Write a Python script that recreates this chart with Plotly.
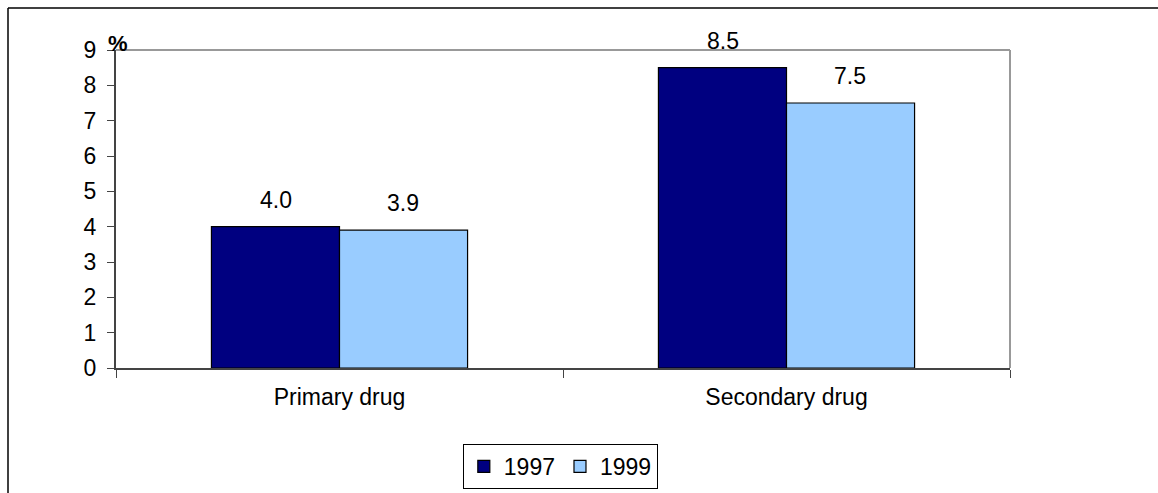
import plotly.graph_objects as go

categories = ["Primary drug", "Secondary drug"]
series_names = ["1997", "1999"]
values_1997 = [4.0, 8.5]
values_1999 = [3.9, 7.5]
colors = ["#000080", "#99CCFF"]
y_ticks = [0, 1, 2, 3, 4, 5, 6, 7, 8, 9]

FONT = "Liberation Sans, Arial, sans-serif"
FS = 23
W, H = 1158, 493
ML, MR, MT, MB = 116, 148, 50, 125

fig = go.Figure()
for name, vals, col in zip(series_names, [values_1997, values_1999], colors):
    fig.add_trace(go.Bar(
        x=categories, y=vals, name=name,
        marker=dict(color=col, line=dict(color="#000000", width=1.2)),
    ))

# value labels above each bar
offsets = [-0.1425, 0.1425]
for vals, off in zip([values_1997, values_1999], offsets):
    for i, v in enumerate(vals):
        fig.add_annotation(
            x=i + off, y=v, xref="x", yref="y", text=f"{v:.1f}",
            showarrow=False, yanchor="middle", yshift=27,
            font=dict(family=FONT, size=FS, color="#000000"),
        )

# unit label at the top of the value axis
fig.add_annotation(
    x=0, y=1, xref="paper", yref="paper", text="<b>%</b>",
    showarrow=False, xanchor="left", yanchor="bottom", xshift=-10, yshift=-8,
    font=dict(family=FONT, size=22, color="#000000"),
)

# outer frame of the chart area
pw, ph = W - ML - MR, H - MT - MB
def px_x(p):
    return (p - ML) / pw
def px_y(p):
    return (H - MB - p) / ph
fig.add_shape(type="line", xref="paper", yref="paper",
              x0=px_x(8), x1=px_x(1160), y0=px_y(8), y1=px_y(8),
              line=dict(color="#000000", width=1.5))
fig.add_shape(type="line", xref="paper", yref="paper",
              x0=px_x(8), x1=px_x(8), y0=px_y(8), y1=px_y(495),
              line=dict(color="#000000", width=1.5))
# plot area border (top and right)
fig.add_shape(type="line", xref="paper", yref="paper",
              x0=0, x1=1, y0=1, y1=1, line=dict(color="#999999", width=2))
fig.add_shape(type="line", xref="paper", yref="paper",
              x0=1, x1=1, y0=0, y1=1, line=dict(color="#999999", width=2))

fig.update_layout(
    width=W, height=H,
    margin=dict(l=ML, r=MR, t=MT, b=MB, autoexpand=False),
    paper_bgcolor="#ffffff", plot_bgcolor="#ffffff",
    barmode="group", bargap=0.427, bargroupgap=0,
    font=dict(family=FONT, size=FS, color="#000000"),
    showlegend=True,
    legend=dict(
        orientation="h", x=0.497, xanchor="center", y=px_y(444), yanchor="top",
        bordercolor="#000000", borderwidth=1, bgcolor="#ffffff",
        font=dict(family=FONT, size=FS, color="#000000"),
        itemwidth=30, tracegroupgap=0,
    ),
    xaxis=dict(
        showline=True, linecolor="#444444", linewidth=1.5,
        ticks="outside", tickson="boundaries", ticklen=8,
        tickcolor="#444444", tickwidth=1, showgrid=False,
        tickfont=dict(family=FONT, size=FS), ticklabelstandoff=8,
    ),
    yaxis=dict(
        range=[0, 9], tickvals=y_ticks, showline=True,
        linecolor="#444444", linewidth=2, ticks="outside", ticklen=7,
        tickcolor="#444444", tickwidth=1, showgrid=False, zeroline=False,
        tickfont=dict(family=FONT, size=FS), ticklabelstandoff=6,
    ),
)

fig.write_html("out.html")
